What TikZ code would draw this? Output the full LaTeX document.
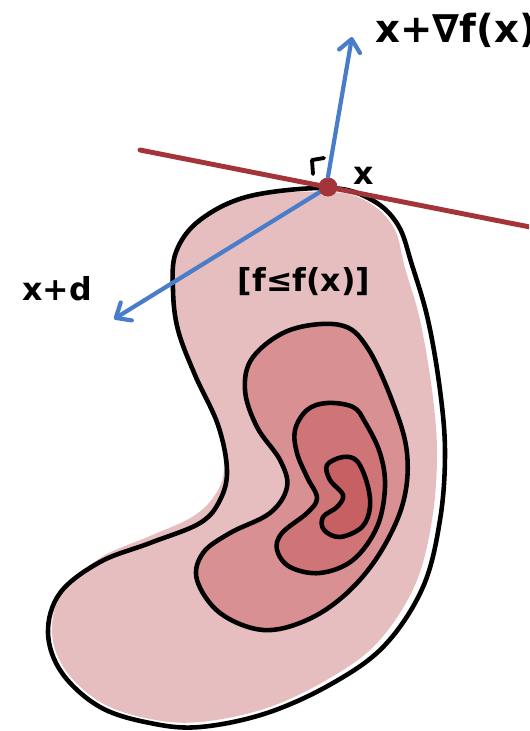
\documentclass[tikz,border=0pt]{standalone}
\usepackage{fontspec}
\setmainfont{DejaVu Sans}
\usepackage{tikz}
\usepackage{xcolor}
\usetikzlibrary{arrows.meta}
\definecolor{levelA}{HTML}{E6BEBF}
\definecolor{levelB}{HTML}{D89093}
\definecolor{levelC}{HTML}{CF7477}
\definecolor{levelD}{HTML}{C66063}
\definecolor{tangred}{HTML}{A3343A}
\definecolor{arrowblue}{HTML}{4A7DC9}

\begin{document}
\begin{tikzpicture}[x=0.02cm,y=-0.02cm,>={Straight Barb[length=7pt,width=12pt,round]},
  contour/.style={line width=2.6pt,black,line join=round},
  gradarrow/.style={->,line width=2.4pt,arrowblue,line cap=round},
  hand/.style={font=\bfseries\fontsize{18}{18}\selectfont,inner sep=0pt}]
\useasboundingbox(0,0)rectangle(529,731);
\clip(0,0)rectangle(529,731);
\path[fill=levelA]plot[smooth cycle,tension=0.6]coordinates{(330,192)(368,202)(394,228)(405,268)(420,320)(432,390)(437,453)(432,520)(415,585)(378,642)(330,678)(267,708)(200,722)(150,719)(102,703)(66,671)(52,633)(62,593)(100,558)(150,536)(192,517)(215,495)(224,468)(216,425)(193,375)(176,330)(171,290)(175,252)(200,218)(250,196)};
\draw[contour,fill=levelB]plot[smooth cycle,tension=0.6]coordinates{(290,330)(340,325)(367,347)(393,403)(407,453)(403,503)(380,553)(347,593)(307,620)(263,630)(220,613)(197,580)(203,553)(230,533)(270,513)(287,487)(280,460)(257,427)(245,390)(253,357)};
\draw[contour,fill=levelC]plot[smooth cycle,tension=0.6]coordinates{(327,403)(353,407)(365,422)(380,453)(385,487)(377,527)(353,560)(320,573)(290,567)(277,550)(282,533)(307,513)(317,498)(307,477)(297,453)(295,430)(307,410)};
\draw[contour,fill=levelD]plot[smooth cycle,tension=0.6]coordinates{(343,457)(357,461)(367,483)(370,507)(362,527)(340,537)(324,530)(323,517)(337,507)(343,495)(330,480)(327,465)};
\draw[contour]plot[smooth cycle,tension=0.6]coordinates{(330,188)(372,200)(398,225)(412,265)(428,320)(440,390)(445,453)(440,520)(423,587)(385,645)(333,683)(267,713)(200,727)(150,723)(100,707)(62,673)(48,633)(60,593)(100,562)(150,543)(200,523)(220,500)(227,470)(218,425)(195,375)(178,330)(173,290)(176,252)(200,220)(250,196)};
\coordinate(tl)at(140,150);
\coordinate(tr)at(530,227);
\draw[line width=2.8pt,tangred,line cap=round](tl)--(tr);
\coordinate(grad)at(352,37);
\coordinate(dir)at(114,319);
\node[circle,inner sep=0pt,minimum size=0.4cm](x)at(328,187){};
\draw[gradarrow](x.center)--(dir);
\fill[tangred](x.center)circle[radius=9.5];
\draw[gradarrow](x.north)--(grad);
\draw[line width=2.2pt,line cap=round,line join=round](313,174)--(312,160)--(324,158);
\node[hand,font=\bfseries\fontsize{22}{22}\selectfont,anchor=base west](gradlabel)at(375,42){x+∇f(x)};
\node[hand](xlabel)at(364,176){x};
\node[hand,anchor=base west](dirlabel)at(22,300){x+d};
\node[hand](setlabel)at(304,282){[f≤f(x)]};
\end{tikzpicture}
\end{document}
